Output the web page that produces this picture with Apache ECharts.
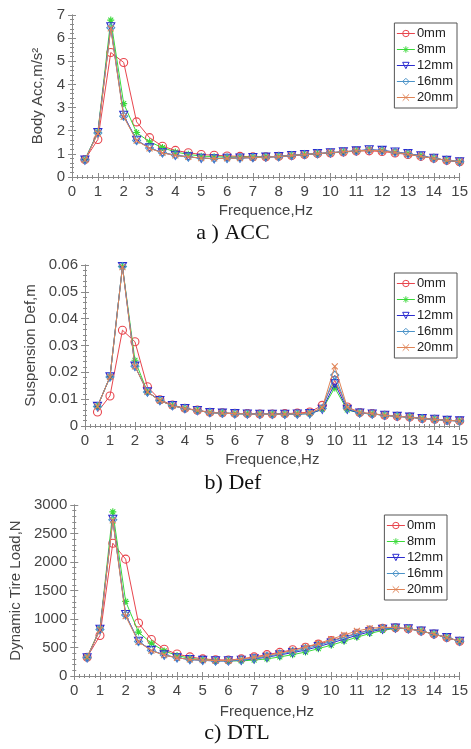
<!DOCTYPE html>
<html>
<head>
<meta charset="utf-8">
<script src="https://cdn.jsdelivr.net/npm/echarts@6/dist/echarts.min.js"></script>
<style>
html,body{margin:0;padding:0;background:#fff;}
#c{width:471px;height:749px;}
</style>
</head>
<body>
<div id="c"></div>
<script>
// ---- data ----
var freq = [0.5,1,1.5,2,2.5,3,3.5,4,4.5,5,5.5,6,6.5,7,7.5,8,8.5,9,9.5,10,10.5,11,11.5,12,12.5,13,13.5,14,14.5,15];
var seriesNames = ['0mm','8mm','12mm','16mm','20mm'];

var acc0  = [0.75,1.62,5.38,4.95,2.38,1.70,1.33,1.15,1.05,0.97,0.94,0.91,0.89,0.87,0.87,0.89,0.93,0.97,1.01,1.04,1.08,1.12,1.13,1.10,1.04,0.97,0.89,0.81,0.72,0.66];
var acc8  = [0.75,1.95,6.78,3.17,1.92,1.52,1.27,1.08,0.98,0.90,0.88,0.86,0.86,0.86,0.87,0.89,0.93,0.97,1.01,1.04,1.08,1.12,1.16,1.13,1.07,1.00,0.91,0.81,0.72,0.66];
var acc12 = [0.73,1.92,6.49,2.67,1.59,1.26,1.05,0.94,0.87,0.81,0.79,0.81,0.82,0.84,0.86,0.88,0.93,0.97,1.01,1.05,1.09,1.13,1.18,1.15,1.08,1.01,0.92,0.81,0.72,0.66];
var acc16 = [0.74,1.90,6.45,2.63,1.58,1.25,1.05,0.94,0.87,0.82,0.80,0.81,0.82,0.84,0.86,0.88,0.93,0.97,1.01,1.05,1.09,1.13,1.17,1.14,1.07,1.00,0.91,0.81,0.72,0.66];
var acc20 = [0.74,1.88,6.42,2.60,1.57,1.24,1.04,0.93,0.87,0.82,0.80,0.81,0.82,0.84,0.86,0.88,0.93,0.97,1.01,1.05,1.09,1.13,1.16,1.13,1.06,0.99,0.90,0.80,0.72,0.66];

var def0  = [0.0052,0.0112,0.0357,0.0314,0.0146,0.0098,0.0078,0.0066,0.0059,0.0051,0.0049,0.0047,0.0046,0.0045,0.0045,0.0046,0.0048,0.0052,0.0077,0.0170,0.0071,0.0050,0.0046,0.0040,0.0036,0.0033,0.0028,0.0025,0.0021,0.0019];
var def8  = [0.0073,0.0183,0.0594,0.0245,0.0127,0.0095,0.0076,0.0065,0.0058,0.0050,0.0048,0.0046,0.0045,0.0044,0.0044,0.0044,0.0045,0.0046,0.0062,0.0142,0.0060,0.0048,0.0045,0.0040,0.0036,0.0033,0.0028,0.0025,0.0021,0.0019];
var def12 = [0.0073,0.0183,0.0594,0.0223,0.0127,0.0095,0.0076,0.0065,0.0058,0.0050,0.0048,0.0046,0.0045,0.0044,0.0044,0.0044,0.0045,0.0046,0.0062,0.0158,0.0062,0.0048,0.0045,0.0040,0.0036,0.0033,0.0028,0.0025,0.0021,0.0019];
var def16 = [0.0073,0.0183,0.0594,0.0223,0.0127,0.0095,0.0076,0.0065,0.0058,0.0050,0.0048,0.0046,0.0045,0.0044,0.0044,0.0044,0.0045,0.0047,0.0065,0.0190,0.0066,0.0049,0.0045,0.0040,0.0036,0.0033,0.0028,0.0025,0.0021,0.0019];
var def20 = [0.0073,0.0183,0.0592,0.0222,0.0127,0.0095,0.0076,0.0065,0.0058,0.0050,0.0048,0.0046,0.0045,0.0044,0.0044,0.0044,0.0046,0.0049,0.0068,0.0222,0.0070,0.0050,0.0046,0.0040,0.0036,0.0033,0.0028,0.0025,0.0021,0.0019];

var dtl0  = [330,710,2330,2050,930,640,470,385,335,300,285,280,300,335,375,415,460,505,560,620,685,750,805,835,845,830,790,735,675,610];
var dtl8  = [330,830,2880,1310,770,575,440,360,310,285,270,265,265,280,300,335,375,420,480,540,610,680,745,800,835,830,790,735,675,610];
var dtl12 = [320,820,2750,1080,610,450,370,320,290,275,265,265,275,300,330,370,410,455,515,580,645,715,775,820,840,830,790,735,675,610];
var dtl16 = [320,815,2740,1070,605,450,370,320,290,275,265,270,280,310,345,385,430,480,540,605,675,740,800,835,845,830,790,735,675,610];
var dtl20 = [330,810,2730,1050,600,445,365,320,290,280,270,275,295,325,360,400,450,510,570,645,720,790,835,855,850,830,790,735,675,610];

var xTicks = [0,15,1];
var yTicksAcc = [0,7,1];
var yTicksDef = [0,0.06,0.01];
var yTicksDtl = [0,3000,500];

// ---- styling ----
var colors = ['#e8464e','#3ada3a','#2b2bcf','#4b93c8','#e08457'];
var symbols = ['circle','path://M5,0L5,10M0,5L10,5M1.5,1.5L8.5,8.5M8.5,1.5L1.5,8.5','triangle','diamond','path://M0,0L10,10M10,0L0,10'];
var symRot = [0,0,180,0,0];
var symSize = [8,7,8,8,6];
var FONT = '"Liberation Sans", Arial, sans-serif';
var AX = '#8a8a8a';

var grids = [
  {left:72, right:6, top:15, height:162},
  {left:85, right:6, top:265, height:161},
  {left:69, right:9, top:505, height:171}
];

var xAxes = [], yAxes = [], series = [], legends = [];
function baseAxis(gi, pos, min, max, interval, showLabel){
  return {
    type:'value', gridIndex:gi, position:pos, min:min, max:max, interval:interval,
    axisLine:{show:true, lineStyle:{color:AX, width:1}},
    axisTick:{show:true, inside:true, length:4, lineStyle:{color:AX}},
    minorTick:{show:true, splitNumber:5, length:2, lineStyle:{color:AX}},
    splitLine:{show:false},
    axisLabel:{show:showLabel, color:'#444', fontSize:15, fontFamily:FONT, margin:7,
      formatter:function(v){return String(v);}},
    z:5
  };
}
var yDefs = [
  {t:yTicksAcc, name:'Body Acc,m/s²', gap:18},
  {t:yTicksDef, name:'Suspension Def,m', gap:38},
  {t:yTicksDtl, name:'Dynamic Tire Load,N', gap:43}
];
var xGaps = [26, 26, 28];
var dataSets = [
  [acc0,acc8,acc12,acc16,acc20],
  [def0,def8,def12,def16,def20],
  [dtl0,dtl8,dtl12,dtl16,dtl20]
];
var legendPos = [
  {right:14, top:23},
  {right:14, top:273},
  {right:24, top:515}
];

for (var g=0; g<3; g++){
  var xb = baseAxis(g,'bottom',xTicks[0],xTicks[1],xTicks[2],true);
  xb.name = 'Frequence,Hz'; xb.nameLocation='middle'; xb.nameGap = xGaps[g];
  xb.nameTextStyle = {color:'#444', fontSize:15, fontFamily:FONT};
  xAxes.push(xb);
  xAxes.push(baseAxis(g,'top',xTicks[0],xTicks[1],xTicks[2],false));
  var yd = yDefs[g];
  var yl = baseAxis(g,'left',yd.t[0],yd.t[1],yd.t[2],true);
  yl.name = yd.name; yl.nameLocation='middle'; yl.nameGap = yd.gap;
  yl.nameTextStyle = {color:'#444', fontSize:15, fontFamily:FONT};
  yAxes.push(yl);
  yAxes.push(baseAxis(g,'right',yd.t[0],yd.t[1],yd.t[2],false));

  for (var s=0; s<5; s++){
    var vals = dataSets[g][s];
    var pts = freq.map(function(f,i){return [f, vals[i]];});
    series.push({
      name: seriesNames[s], type:'line', xAxisIndex:2*g, yAxisIndex:2*g,
      data: pts, symbol: symbols[s], symbolRotate: symRot[s], symbolSize: symSize[s],
      showSymbol:true, animation:false,
      lineStyle:{color:colors[s], width:1},
      itemStyle:{color:(s===1?colors[s]:'rgba(255,255,255,0)'), borderColor:colors[s], borderWidth:1.1},
      z: 2+s
    });
  }
  legends.push({
    show:true, orient:'vertical', right:legendPos[g].right, top:legendPos[g].top,
    data: seriesNames.map(function(n,i){
      return {name:n,
        itemStyle:{color:(i===1?colors[i]:'rgba(255,255,255,0)'), borderColor:colors[i], borderWidth:1},
        lineStyle:{color:colors[i], width:1}};
    }),
    backgroundColor:'#fff', borderColor:'#555', borderWidth:1,
    padding:[4,4,4,2], itemGap:3, itemWidth:18, itemHeight:8,
    textStyle:{color:'#222', fontSize:13, fontFamily:FONT, padding:[0,0,0,-3]},
    selectedMode:false, z:10
  });
}

var captions = [
  {text:'a ) ACC', x:233, y:233},
  {text:'b) Def', x:233, y:483},
  {text:'c) DTL', x:237, y:733}
];

var chart = echarts.init(document.getElementById('c'), null, {renderer:'canvas'});
chart.setOption({
  animation:false,
  backgroundColor:'#fff',
  grid: grids.map(function(g){return {left:g.left, right:g.right, top:g.top, height:g.height, show:false};}),
  xAxis: xAxes, yAxis: yAxes, series: series, legend: legends,
  graphic: captions.map(function(c){
    return {type:'text', x:c.x, y:c.y, style:{text:c.text, fill:'#111', font:'22px "Liberation Serif", "Times New Roman", serif', textAlign:'center', textVerticalAlign:'middle'}};
  })
});
</script>
</body>
</html>
